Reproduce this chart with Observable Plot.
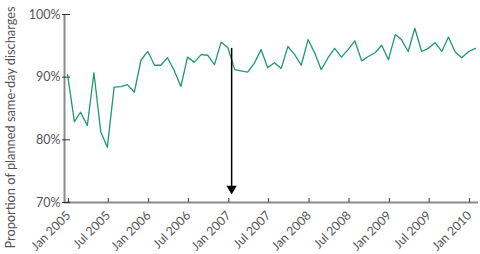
<!DOCTYPE html>
<html><head><meta charset="utf-8">
<script src="https://cdn.jsdelivr.net/npm/d3@7"></script>
<script src="https://cdn.jsdelivr.net/npm/@observablehq/plot@0.6"></script>
<style>body{margin:0;background:#fff}</style>
</head><body><div id="chart"></div>
<script>
// Monthly proportion of planned same-day discharges (%), Jan 2005 – Feb 2010
const values2005 = [90.4, 82.9, 84.4, 82.3, 90.7, 81.3, 78.8, 88.4, 88.5, 88.8, 87.6, 92.7];
const values2006 = [94.1, 91.9, 91.9, 93.1, 91.1, 88.5, 93.2, 92.4, 93.6, 93.5, 92.0, 95.6];
const values2007 = [94.7, 91.2, 91.0, 90.8, 92.2, 94.4, 91.5, 92.3, 91.4, 94.9, 93.6, 91.9];
const values2008 = [96.0, 93.8, 91.2, 93.1, 94.6, 93.2, 94.4, 95.8, 92.6, 93.3, 93.9, 95.1];
const values2009 = [92.8, 96.8, 96.0, 94.1, 97.8, 94.1, 94.6, 95.5, 94.1, 96.4, 94.0, 93.1];
const values2010 = [94.1, 94.6];
const startYear = 2005;

const xTickDates = ["2005-01-01","2005-07-01","2006-01-01","2006-07-01","2007-01-01","2007-07-01",
                    "2008-01-01","2008-07-01","2009-01-01","2009-07-01","2010-01-01"];
const xDomain = ["2005-01-01", "2010-03-01"];
const yTicks = [70, 80, 90, 100];
const yDomain = [70, 100];
const yLabel = "Proportion of planned same-day discharges";
const arrow = [{date: "2007-02-01", from: 94.6, to: 72.2}];

const values = [...values2005, ...values2006, ...values2007, ...values2008, ...values2009, ...values2010];
const data = values.map((v, i) => ({date: new Date(Date.UTC(startYear, i, 15)), value: v}));
const fmt = d3.utcFormat("%b %Y");

const chart = Plot.plot({
  width: 480, height: 254,
  marginLeft: 64, marginTop: 14, marginBottom: 52, marginRight: 2,
  style: {fontFamily: "Lato, sans-serif", fontSize: "12px", color: "#555", background: "white"},
  x: {type: "utc", domain: xDomain.map(d => new Date(d))},
  y: {domain: yDomain},
  marks: [
    Plot.ruleY([yDomain[0]], {stroke: "#8a8a8a", strokeWidth: 2}),
    Plot.ruleX([new Date(xDomain[0])], {stroke: "#8a8a8a", strokeWidth: 2}),
    Plot.axisY({ticks: yTicks, tickFormat: d => d + "%", tickSize: 8, insetLeft: 6, tickPadding: 2,
                stroke: "#333", label: null, fontSize: 12.5}),
    Plot.axisX({ticks: xTickDates.map(d => new Date(d)), tickFormat: fmt, tickSize: 4, insetBottom: 4,
                tickRotate: -45, tickPadding: 11, dx: 4, stroke: "#333", label: null, fontSize: 12.3}),
    Plot.lineY(data, {x: "date", y: "value", stroke: "#1f9a6c", strokeWidth: 1.3}),
    Plot.ruleX(arrow, {x: d => new Date(d.date), y1: "from", y2: "to", stroke: "black", strokeWidth: 1.5}),
    Plot.dot(arrow, {x: d => new Date(d.date), y: "to", symbol: "triangle", rotate: 180, r: 3.8, fill: "black", stroke: "none"}),
    Plot.text([yLabel], {frameAnchor: "left", textAnchor: "middle", rotate: -90, dx: -54, dy: 19, fontSize: 12.8, fill: "#555"})
  ]
});
document.getElementById("chart").appendChild(chart);
</script>
</body></html>
